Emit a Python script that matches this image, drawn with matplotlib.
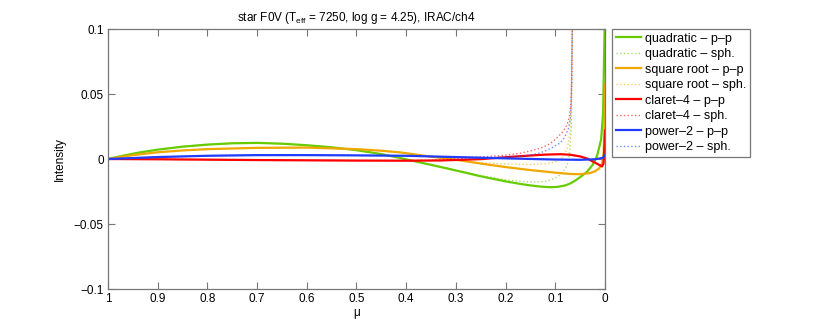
import numpy as np
import matplotlib
matplotlib.use("Agg")
import matplotlib.pyplot as plt

plt.rcParams['font.family'] = ['Liberation Sans', 'DejaVu Sans']
plt.rcParams['mathtext.fontset'] = 'custom'
plt.rcParams['mathtext.rm'] = 'Liberation Sans'
plt.rcParams['mathtext.it'] = 'Liberation Sans:italic'

# values (mu, intensity difference)
quad_pp_mu = [1.0, 0.97, 0.94, 0.9, 0.85, 0.8, 0.75, 0.7, 0.65, 0.6, 0.55, 0.5, 0.45, 0.42,
              0.37, 0.33, 0.3, 0.25, 0.2, 0.17, 0.15, 0.13, 0.11, 0.095, 0.08, 0.07, 0.06,
              0.045, 0.036, 0.025, 0.016, 0.008, 0.004, 0.001, 0.0]
quad_pp = [0.0, 0.0025, 0.0048, 0.0072, 0.0095, 0.0111, 0.0121, 0.0124, 0.0118, 0.0106,
           0.009, 0.0068, 0.0038, 0.0014, -0.0028, -0.0062, -0.0088, -0.0133, -0.0172,
           -0.0192, -0.0203, -0.0212, -0.0217, -0.0214, -0.0203, -0.0188, -0.0166, -0.0125,
           -0.0096, -0.0045, 0.0025, 0.015, 0.035, 0.1, 0.15]

quad_sph_mu = [1.0, 0.94, 0.9, 0.85, 0.8, 0.75, 0.7, 0.65, 0.6, 0.55, 0.5, 0.45, 0.42, 0.37,
               0.33, 0.3, 0.25, 0.2, 0.17, 0.15, 0.13, 0.115, 0.105, 0.095, 0.087, 0.08,
               0.075, 0.071, 0.068, 0.067, 0.066, 0.065]
quad_sph = [0.0, 0.0048, 0.0072, 0.0095, 0.0111, 0.0121, 0.0124, 0.0118, 0.0106, 0.009, 0.0068,
            0.0038, 0.0014, -0.0028, -0.006, -0.0085, -0.0127, -0.016, -0.0172, -0.0177,
            -0.0176, -0.0168, -0.0155, -0.0135, -0.011, -0.0075, -0.003, 0.006, 0.025, 0.05,
            0.1, 0.2]

sqrt_pp_mu = [1.0, 0.95, 0.9, 0.85, 0.8, 0.7, 0.6, 0.5, 0.45, 0.41, 0.35, 0.3, 0.25, 0.2,
              0.15, 0.1, 0.07, 0.05, 0.03, 0.02, 0.012, 0.006, 0.003, 0.0015, 0.0]
sqrt_pp = [0.0, 0.003, 0.0052, 0.0066, 0.0076, 0.0086, 0.0088, 0.0076, 0.0064, 0.005, 0.0018,
           -0.0006, -0.0035, -0.0062, -0.0085, -0.0105, -0.0115, -0.0117, -0.0108, -0.0094,
           -0.0072, -0.0035, 0.004, 0.02, 0.058]

sqrt_sph_mu = [1.0, 0.95, 0.9, 0.85, 0.8, 0.7, 0.6, 0.5, 0.45, 0.41, 0.35, 0.3, 0.25, 0.2,
               0.15, 0.12, 0.1, 0.085, 0.076, 0.071, 0.068, 0.066, 0.065]
sqrt_sph = [0.0, 0.003, 0.0052, 0.0066, 0.0076, 0.0086, 0.0088, 0.0076, 0.0064, 0.005, 0.0018,
            -0.0005, -0.0028, -0.0038, -0.0042, -0.0036, -0.0022, 0.0015, 0.008, 0.019, 0.04,
            0.1, 0.2]

claret_pp_mu = [1.0, 0.9, 0.8, 0.7, 0.6, 0.5, 0.4, 0.33, 0.25, 0.2, 0.15, 0.12, 0.09, 0.07,
                0.05, 0.035, 0.025, 0.012, 0.006, 0.003, 0.0015, 0.0]
claret_pp = [0.0, -0.0002, -0.0005, -0.0008, -0.001, -0.0012, -0.0013, -0.0011, -0.0001,
             0.0014, 0.0027, 0.0034, 0.0037, 0.0033, 0.002, 0.0002, -0.0018, -0.0045,
             -0.0057, -0.0035, 0.008, 0.022]

claret_sph_mu = [1.0, 0.9, 0.8, 0.7, 0.6, 0.5, 0.4, 0.35, 0.3, 0.25, 0.2, 0.17, 0.15, 0.13,
                 0.115, 0.105, 0.095, 0.085, 0.077, 0.072, 0.069, 0.067, 0.066, 0.065]
claret_sph = [0.0, -0.0002, -0.0005, -0.0008, -0.001, -0.0012, -0.0012, -0.0008, 0.0002,
              0.0015, 0.003, 0.0045, 0.0062, 0.0083, 0.0108, 0.0135, 0.017, 0.021, 0.026,
              0.032, 0.042, 0.06, 0.1, 0.2]

power_pp_mu = [1.0, 0.9, 0.8, 0.7, 0.6, 0.5, 0.4, 0.3, 0.2, 0.1, 0.05, 0.02, 0.005, 0.0]
power_pp = [0.0, 0.0015, 0.0025, 0.003, 0.003, 0.0028, 0.0025, 0.0015, 0.0005, -0.0004,
            -0.0006, -0.0002, 0.0008, 0.003]

power_sph_mu = [1.0, 0.9, 0.8, 0.7, 0.6, 0.5, 0.4, 0.3, 0.25, 0.2, 0.17, 0.15, 0.13, 0.117,
                0.103, 0.09, 0.081, 0.074, 0.07, 0.068, 0.066, 0.065]
power_sph = [0.0, 0.0015, 0.0025, 0.003, 0.003, 0.0028, 0.0025, 0.0015, 0.0012, 0.0015,
             0.0022, 0.003, 0.0048, 0.0068, 0.0095, 0.0125, 0.017, 0.023, 0.031, 0.045, 0.1,
             0.2]

green = '#66cc00'
orange = '#f0a800'
red = '#ff0000'
blue = '#1f3cff'

fig = plt.figure(figsize=(8.3, 3.19), dpi=100)
ax = fig.add_axes([0.130, 0.094, 0.599, 0.815])

lw_s, lw_d = 1.6, 1.0
ax.plot(quad_pp_mu, quad_pp, color=green, lw=lw_s, label='quadratic – p–p')
ax.plot(quad_sph_mu, quad_sph, color=green, lw=lw_d, ls=':', alpha=0.6, label='quadratic – sph.')
ax.plot(sqrt_pp_mu, sqrt_pp, color=orange, lw=lw_s, label='square root – p–p')
ax.plot(sqrt_sph_mu, sqrt_sph, color=orange, lw=lw_d, ls=':', alpha=0.6, label='square root – sph.')
ax.plot(claret_pp_mu, claret_pp, color=red, lw=lw_s, label='claret–4 – p–p')
ax.plot(claret_sph_mu, claret_sph, color=red, lw=lw_d, ls=':', alpha=0.6, label='claret–4 – sph.')
ax.plot(power_pp_mu, power_pp, color=blue, lw=lw_s, label='power–2 – p–p')
ax.plot(power_sph_mu, power_sph, color=blue, lw=lw_d, ls=':', alpha=0.6, label='power–2 – sph.')

ax.set_xlim(1, 0)
ax.set_ylim(-0.1, 0.1)
ax.set_xticks(np.arange(0, 1.01, 0.1))
ax.set_xticklabels(['0', '0.1', '0.2', '0.3', '0.4', '0.5', '0.6', '0.7', '0.8', '0.9', '1'])
ax.set_yticks([-0.1, -0.05, 0, 0.05, 0.1])
ax.set_yticklabels(['−0.1', '−0.05', '0', '0.05', '0.1'])
ax.tick_params(direction='in', top=True, right=True, length=5, width=0.8,
               color='#777777', labelsize=8.5, pad=3)
for s in ax.spines.values():
    s.set_color('#777777')
    s.set_linewidth(0.9)

ax.set_xlabel('μ', fontsize=8.5, labelpad=1)
ax.set_ylabel('Intensity', fontsize=8.5, labelpad=6)
ax.set_title(r'star F0V (T$_{\rm eff}$ = 7250, log g = 4.25), IRAC/ch4', fontsize=8.5, pad=6)

leg = ax.legend(loc='upper left', bbox_to_anchor=(1.014, 1.0), borderaxespad=0,
                fontsize=9, frameon=True, fancybox=False, handlelength=2.0,
                handletextpad=0.3, labelspacing=0.28, borderpad=0.3)
leg.get_frame().set_edgecolor('#555555')
leg.get_frame().set_linewidth(0.9)

fig.savefig('out.png', dpi=100)
